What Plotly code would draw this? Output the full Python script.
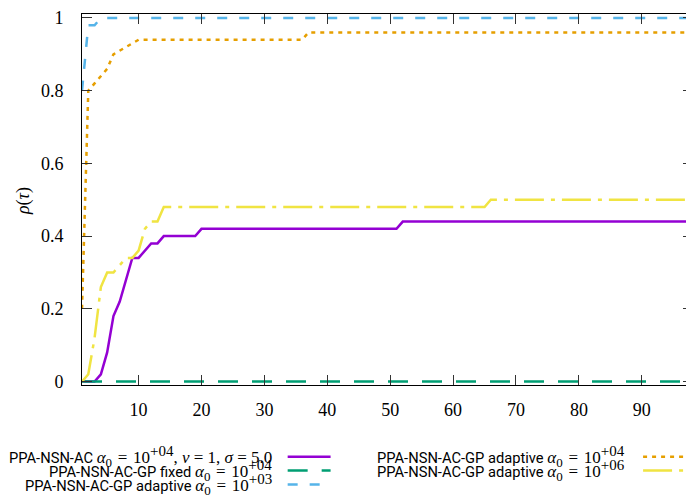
import plotly.graph_objects as go

# ---- data ----
purple_x = [1, 3, 4, 5, 6, 7, 9, 10, 12, 13, 14, 19, 20, 51, 52, 98.5]
purple_y = [0, 0, 0.02, 0.08, 0.18, 0.22, 0.34, 0.34, 0.38, 0.38, 0.40, 0.40, 0.42, 0.42, 0.44, 0.44]

green_x = [1, 98.5]
green_y = [0, 0]

blue_x = [1, 2, 3, 4, 98.5]
blue_y = [0.80, 0.98, 0.98, 1.0, 1.0]

orange_x = [1, 2, 3, 4, 5, 6, 8, 10, 36, 37, 98.5]
orange_y = [0.20, 0.80, 0.82, 0.84, 0.86, 0.90, 0.92, 0.94, 0.94, 0.96, 0.96]

yellow_x = [1, 2, 3, 4, 5, 6, 7, 8, 9, 10, 11, 12, 13, 14, 65, 66, 98.5]
yellow_y = [0, 0.02, 0.12, 0.26, 0.30, 0.30, 0.32, 0.34, 0.34, 0.36, 0.42, 0.44, 0.44, 0.48, 0.48, 0.50, 0.50]

x_ticks = [10, 20, 30, 40, 50, 60, 70, 80, 90]
y_ticks = [0, 0.2, 0.4, 0.6, 0.8, 1]
y_tick_text = ["0", "0.2", "0.4", "0.6", "0.8", "1"]

SANS = "<span style='font-family:Roboto;font-size:14.7px'>"
MATH = "<span style='font-family:Liberation Serif;font-size:17px'>"
SP = "\u2004"


def alpha(exp):
    return ("<i>α</i><sub><span style='font-size:13px'>0</span></sub>" + SP + "=" + SP +
            "10<sup><span style='font-size:15px'>" + exp + "</span></sup>")


names = [
    SANS + "PPA-NSN-AC </span>" + MATH + alpha("+04") + ", <i>ν</i> = 1, <i>σ</i> = 5.0</span>",
    SANS + "PPA-NSN-AC-GP fixed </span>" + MATH + alpha("+04") + "</span>",
    SANS + "PPA-NSN-AC-GP adaptive </span>" + MATH + alpha("+03") + "</span>",
    SANS + "PPA-NSN-AC-GP adaptive </span>" + MATH + alpha("+04") + "</span>",
    SANS + "PPA-NSN-AC-GP adaptive </span>" + MATH + alpha("+06") + "</span>",
]
colors = ["#9400D3", "#009E73", "#56B4E9", "#E69F00", "#F0E442"]
dashes = ["solid", "20px,14px", "10px,12px", "4px,5px", "29px,7px,4px,7px"]
xs = [purple_x, green_x, blue_x, orange_x, yellow_x]
ys = [purple_y, green_y, blue_y, orange_y, yellow_y]

# the page body has an 8px margin: figure coordinates = window coordinates - 8
OFF = 8
W, H = 694 - OFF, 499 - OFF
L, R, T, B = 82 - OFF, 0, 0, 114
PW, PH = W - L - R, H - T - B
Y_SCALE = 369.5  # px per unit
Y0_FIG = 381.5 - OFF  # y=0 position in figure px

fig = go.Figure()
for i in range(5):
    fig.add_trace(go.Scatter(x=xs[i], y=ys[i], mode="lines", name=names[i],
                             line=dict(color=colors[i], width=2.5, dash=dashes[i]),
                             showlegend=False, hoverinfo="skip"))


def px_x(p):
    return (p - OFF - L) / PW


def px_y(p):
    return (H - B - (p - OFF)) / PH


# gnuplot-style legend (text right-aligned, sample on the right), window px
legend_pos = [
    (274, 288, 331, 458),
    (274, 288, 331, 472),
    (274, 288, 331, 486),
    (628, 644, 692, 458),
    (628, 644, 692, 472),
]
annotations = []
shapes = []
for i, (tx, s0, s1, yy) in enumerate(legend_pos):
    annotations.append(dict(x=px_x(tx), y=px_y(yy), xref="paper", yref="paper",
                            text=names[i], showarrow=False, xanchor="right", yanchor="middle",
                            font=dict(family="Roboto", size=14, color="black")))
    shapes.append(dict(type="line", xref="paper", yref="paper",
                       x0=px_x(s0), x1=px_x(s1), y0=px_y(yy), y1=px_y(yy),
                       line=dict(color=colors[i], width=2.5, dash=dashes[i])))

annotations.append(dict(x=px_x(24), y=px_y(198), xref="paper", yref="paper",
                        text="<i>ρ</i>(<i>τ</i>)", showarrow=False, textangle=-90,
                        xanchor="center", yanchor="middle",
                        font=dict(family="Liberation Serif", size=18, color="black")))

y_bottom = -((H - B) - Y0_FIG) / Y_SCALE
y_top = y_bottom + PH / Y_SCALE

fig.update_layout(
    width=W, height=H,
    margin=dict(l=L, r=R, t=T, b=B, pad=0),
    paper_bgcolor="white", plot_bgcolor="white",
    annotations=annotations, shapes=shapes,
    xaxis=dict(range=[1, 1 + PW / 6.3], tickvals=x_ticks, ticks="inside", ticklen=10,
               tickcolor="#333", showline=True, linecolor="black", linewidth=1,
               mirror="ticks", showgrid=False, zeroline=False,
               tickfont=dict(family="Liberation Serif", size=18, color="black"),
               ticklabelstandoff=8, ticklabeloverflow="allow"),
    yaxis=dict(range=[y_bottom, y_top], tickvals=y_ticks, ticktext=y_tick_text,
               ticks="inside", ticklen=10, tickcolor="#333", showline=True,
               linecolor="black", linewidth=1, mirror="ticks", showgrid=False,
               zeroline=False,
               tickfont=dict(family="Liberation Serif", size=18, color="black"),
               ticklabelstandoff=14, ticklabeloverflow="allow"),
)

fig.write_html("out.html")
